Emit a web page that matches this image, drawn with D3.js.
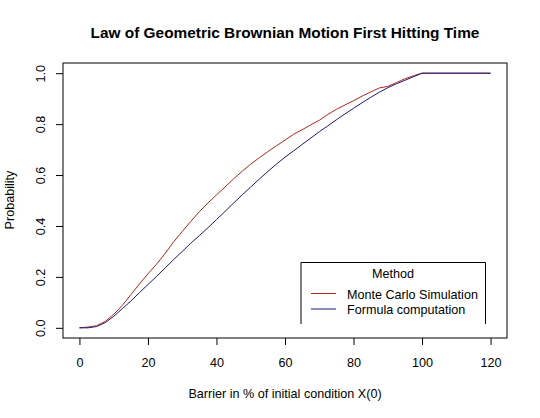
<!DOCTYPE html>
<html>
<head>
<meta charset="utf-8">
<script src="https://cdn.jsdelivr.net/npm/d3@7"></script>
<style>
  body { margin: 0; background: #fff; }
  text { font-family: "Liberation Sans", Arial, sans-serif; fill: #000; }
</style>
</head>
<body>
<svg width="540" height="418"></svg>
<script>
// barrier levels (% of X(0))
const barrier = [0, 2.5, 5, 7.5, 10, 12.5, 15, 17.5, 20, 22.5, 25, 27.5, 30, 32.5, 35, 37.5,
  40, 42.5, 45, 47.5, 50, 52.5, 55, 57.5, 60, 62.5, 65, 67.5, 70, 72.5, 75, 77.5, 80,
  82.5, 85, 87.5, 90, 92.5, 95, 97.5, 100, 120];

const monteCarlo = [0, 0.003, 0.008, 0.025, 0.053, 0.088, 0.13, 0.172, 0.212, 0.25, 0.292,
  0.338, 0.378, 0.418, 0.456, 0.49, 0.522, 0.553, 0.585, 0.615, 0.643, 0.668, 0.692,
  0.715, 0.737, 0.76, 0.778, 0.797, 0.815, 0.838, 0.858, 0.875, 0.892, 0.91, 0.926,
  0.942, 0.948, 0.963, 0.978, 0.99, 1, 1];

const formula = [0, 0, 0.005, 0.02, 0.045, 0.075, 0.105, 0.138, 0.17, 0.202, 0.235, 0.268,
  0.3, 0.332, 0.362, 0.393, 0.425, 0.457, 0.49, 0.522, 0.553, 0.584, 0.614, 0.643, 0.67,
  0.695, 0.72, 0.745, 0.77, 0.793, 0.817, 0.84, 0.862, 0.884, 0.905, 0.925, 0.943,
  0.958, 0.972, 0.986, 1, 1];

const xTicks = [0, 20, 40, 60, 80, 100, 120];
const yTicks = [0, 0.2, 0.4, 0.6, 0.8, 1.0];

const seriesNames = ["Monte Carlo Simulation", "Formula computation"];
const seriesColors = ["#b3261e", "#1a1a7a"];

var svg = d3.select("svg");

// R style: range padded by 4% on each side
var x = d3.scaleLinear().domain([-4.8, 124.8]).range([63, 507]);
var y = d3.scaleLinear().domain([-0.04, 1.04]).range([338, 63]);

var line = d3.line()
  .x((d) => x(d[0]))
  .y((d) => y(d[1]));

[monteCarlo, formula].forEach(function (vals, i) {
  svg.append("path")
    .datum(barrier.map((b, j) => [b, vals[j]]))
    .attr("d", line)
    .attr("fill", "none")
    .attr("stroke", seriesColors[i])
    .attr("stroke-width", 1);
});

// box
svg.append("rect")
  .attr("x", 63).attr("y", 63)
  .attr("width", 444).attr("height", 275)
  .attr("fill", "none")
  .attr("stroke", "#000");

// x axis
var xAxis = svg.append("g")
  .attr("transform", "translate(0,338)")
  .call(d3.axisBottom(x).tickValues(xTicks).tickSize(7).tickPadding(0).tickFormat(d3.format("d")));
xAxis.select(".domain").remove();
xAxis.selectAll("text")
  .attr("y", 0)
  .attr("dy", 28.7)
  .attr("font-size", 12.6)
  .attr("font-family", "Liberation Sans, Arial, sans-serif");

// y axis
var yAxis = svg.append("g")
  .attr("transform", "translate(63,0)")
  .call(d3.axisLeft(y).tickValues(yTicks).tickSize(7).tickFormat(d3.format(".1f")));
yAxis.select(".domain").remove();
yAxis.selectAll("text")
  .attr("x", null).attr("dy", null)
  .attr("text-anchor", "middle")
  .attr("transform", "translate(-18,0) rotate(-90)")
  .attr("font-size", 12.6)
  .attr("font-family", "Liberation Sans, Arial, sans-serif");

// title and labels
svg.append("text")
  .attr("x", 285).attr("y", 38.3)
  .attr("text-anchor", "middle")
  .attr("font-size", 15.4).attr("font-weight", "bold")
  .text("Law of Geometric Brownian Motion First Hitting Time");

svg.append("text")
  .attr("x", 285).attr("y", 398)
  .attr("text-anchor", "middle")
  .attr("font-size", 12.6)
  .text("Barrier in % of initial condition X(0)");

svg.append("text")
  .attr("transform", "translate(14,200) rotate(-90)")
  .attr("text-anchor", "middle")
  .attr("font-size", 12.6)
  .text("Probability");

// legend (bottom edge is cut off in the original)
var lg = svg.append("g");
lg.append("rect")
  .attr("x", 301).attr("y", 262)
  .attr("width", 185).attr("height", 62)
  .attr("fill", "#fff");
lg.append("path")
  .attr("d", "M301,324V262.5H485.5V324")
  .attr("fill", "none")
  .attr("stroke", "#000");
lg.append("text")
  .attr("x", 393).attr("y", 278)
  .attr("text-anchor", "middle")
  .attr("font-size", 12.6)
  .text("Method");

seriesNames.forEach(function (name, i) {
  var yy = 293.5 + i * 15.5;
  lg.append("line")
    .attr("x1", 311).attr("x2", 336)
    .attr("y1", yy).attr("y2", yy)
    .attr("stroke", seriesColors[i]);
  lg.append("text")
    .attr("x", 347).attr("y", yy + 5)
    .attr("font-size", 12.6)
    .text(name);
});
</script>
</body>
</html>
